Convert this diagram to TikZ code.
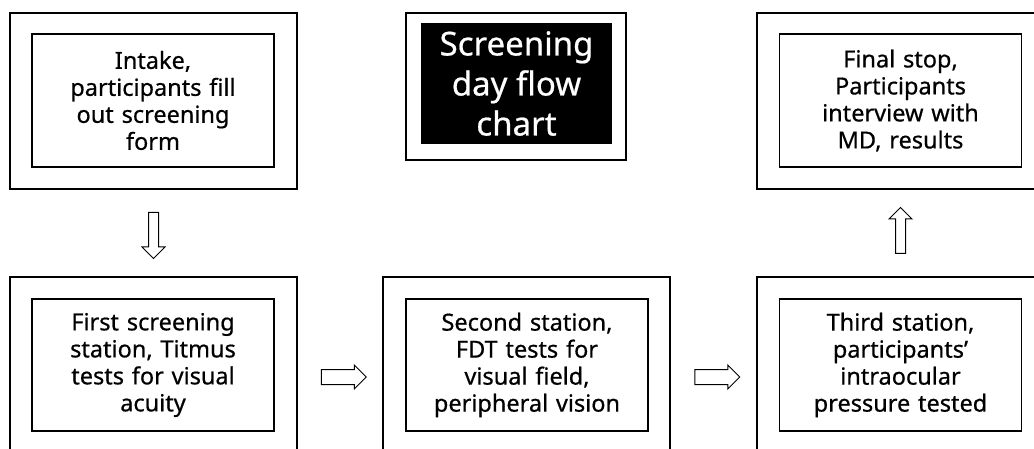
\documentclass[tikz,border=0pt]{standalone}
\usepackage{fontspec}
\setmainfont{Noto Sans}[FakeBold=0.6]
\usetikzlibrary{shapes.arrows,calc}

\begin{document}
\begin{tikzpicture}[
  x=1pt,y=-1pt,
  frame/.style={draw,line width=1.1pt,minimum width=287pt,minimum height=176pt},
  stage/.style={draw,line width=1.2pt,minimum width=242pt,minimum height=133pt,
    align=center,text width=230pt,font=\fontsize{23.5}{27}\selectfont},
  varr/.style={draw,line width=1pt,single arrow,single arrow head extend=6.5pt,
    inner xsep=4.5pt,inner ysep=0pt,minimum height=46pt},
  harr/.style={draw,line width=1pt,single arrow,single arrow head extend=4.5pt,
    inner xsep=0pt,inner ysep=7pt,minimum height=45pt}
]
\path[use as bounding box,clip] (0,0) rectangle (1034,449);

% top row
\node[frame] (intakebox) at (153.5,101) {};
\node[stage] (intake) at (153,100.5) {Intake,\\participants fill\\out screening\\form};
\node[draw,line width=1.1pt,minimum width=220pt,minimum height=147pt] (titlebox) at (516,86.5) {};
\node[fill=black,text=white,minimum width=191pt,minimum height=121pt,align=center,
  font=\fontsize{33}{40}\selectfont] (title) at (516.5,83.5) {Screening\\day flow\\chart};
\node[frame] (finalbox) at (900.5,101) {};
\node[stage] (final) at (900.5,100.5) {Final stop,\\Participants\\interview with\\MD, results};

% bottom row
\node[frame,minimum height=180pt] (firstbox) at (153.5,367) {};
\node[stage,minimum height=132pt] (first) at (153,365) {First screening\\station, Titmus\\tests for visual\\acuity};
\node[frame,minimum height=180pt] (secondbox) at (526.5,367) {};
\node[stage,minimum height=132pt] (second) at (527,365) {Second station,\\FDT tests for\\visual field,\\peripheral vision};
\node[frame,minimum height=180pt] (thirdbox) at (900.5,367) {};
\node[stage,minimum height=132pt] (third) at (900.5,365) {Third station,\\participants'\\intraocular\\pressure tested};

% arrows
\node[varr,shape border rotate=270] (toFirst) at ($(intakebox.south)!0.5!(firstbox.north)$) {};
\node[harr] (toSecond) at ($(firstbox.east)!0.5!(secondbox.west)+(0,10)$) {};
\node[harr] (toThird) at ($(secondbox.east)!0.5!(thirdbox.west)+(0,10)$) {};
\node[varr,shape border rotate=90] (toFinal) at ($(thirdbox.north)!0.5!(finalbox.south)$) {};
\end{tikzpicture}
\end{document}
